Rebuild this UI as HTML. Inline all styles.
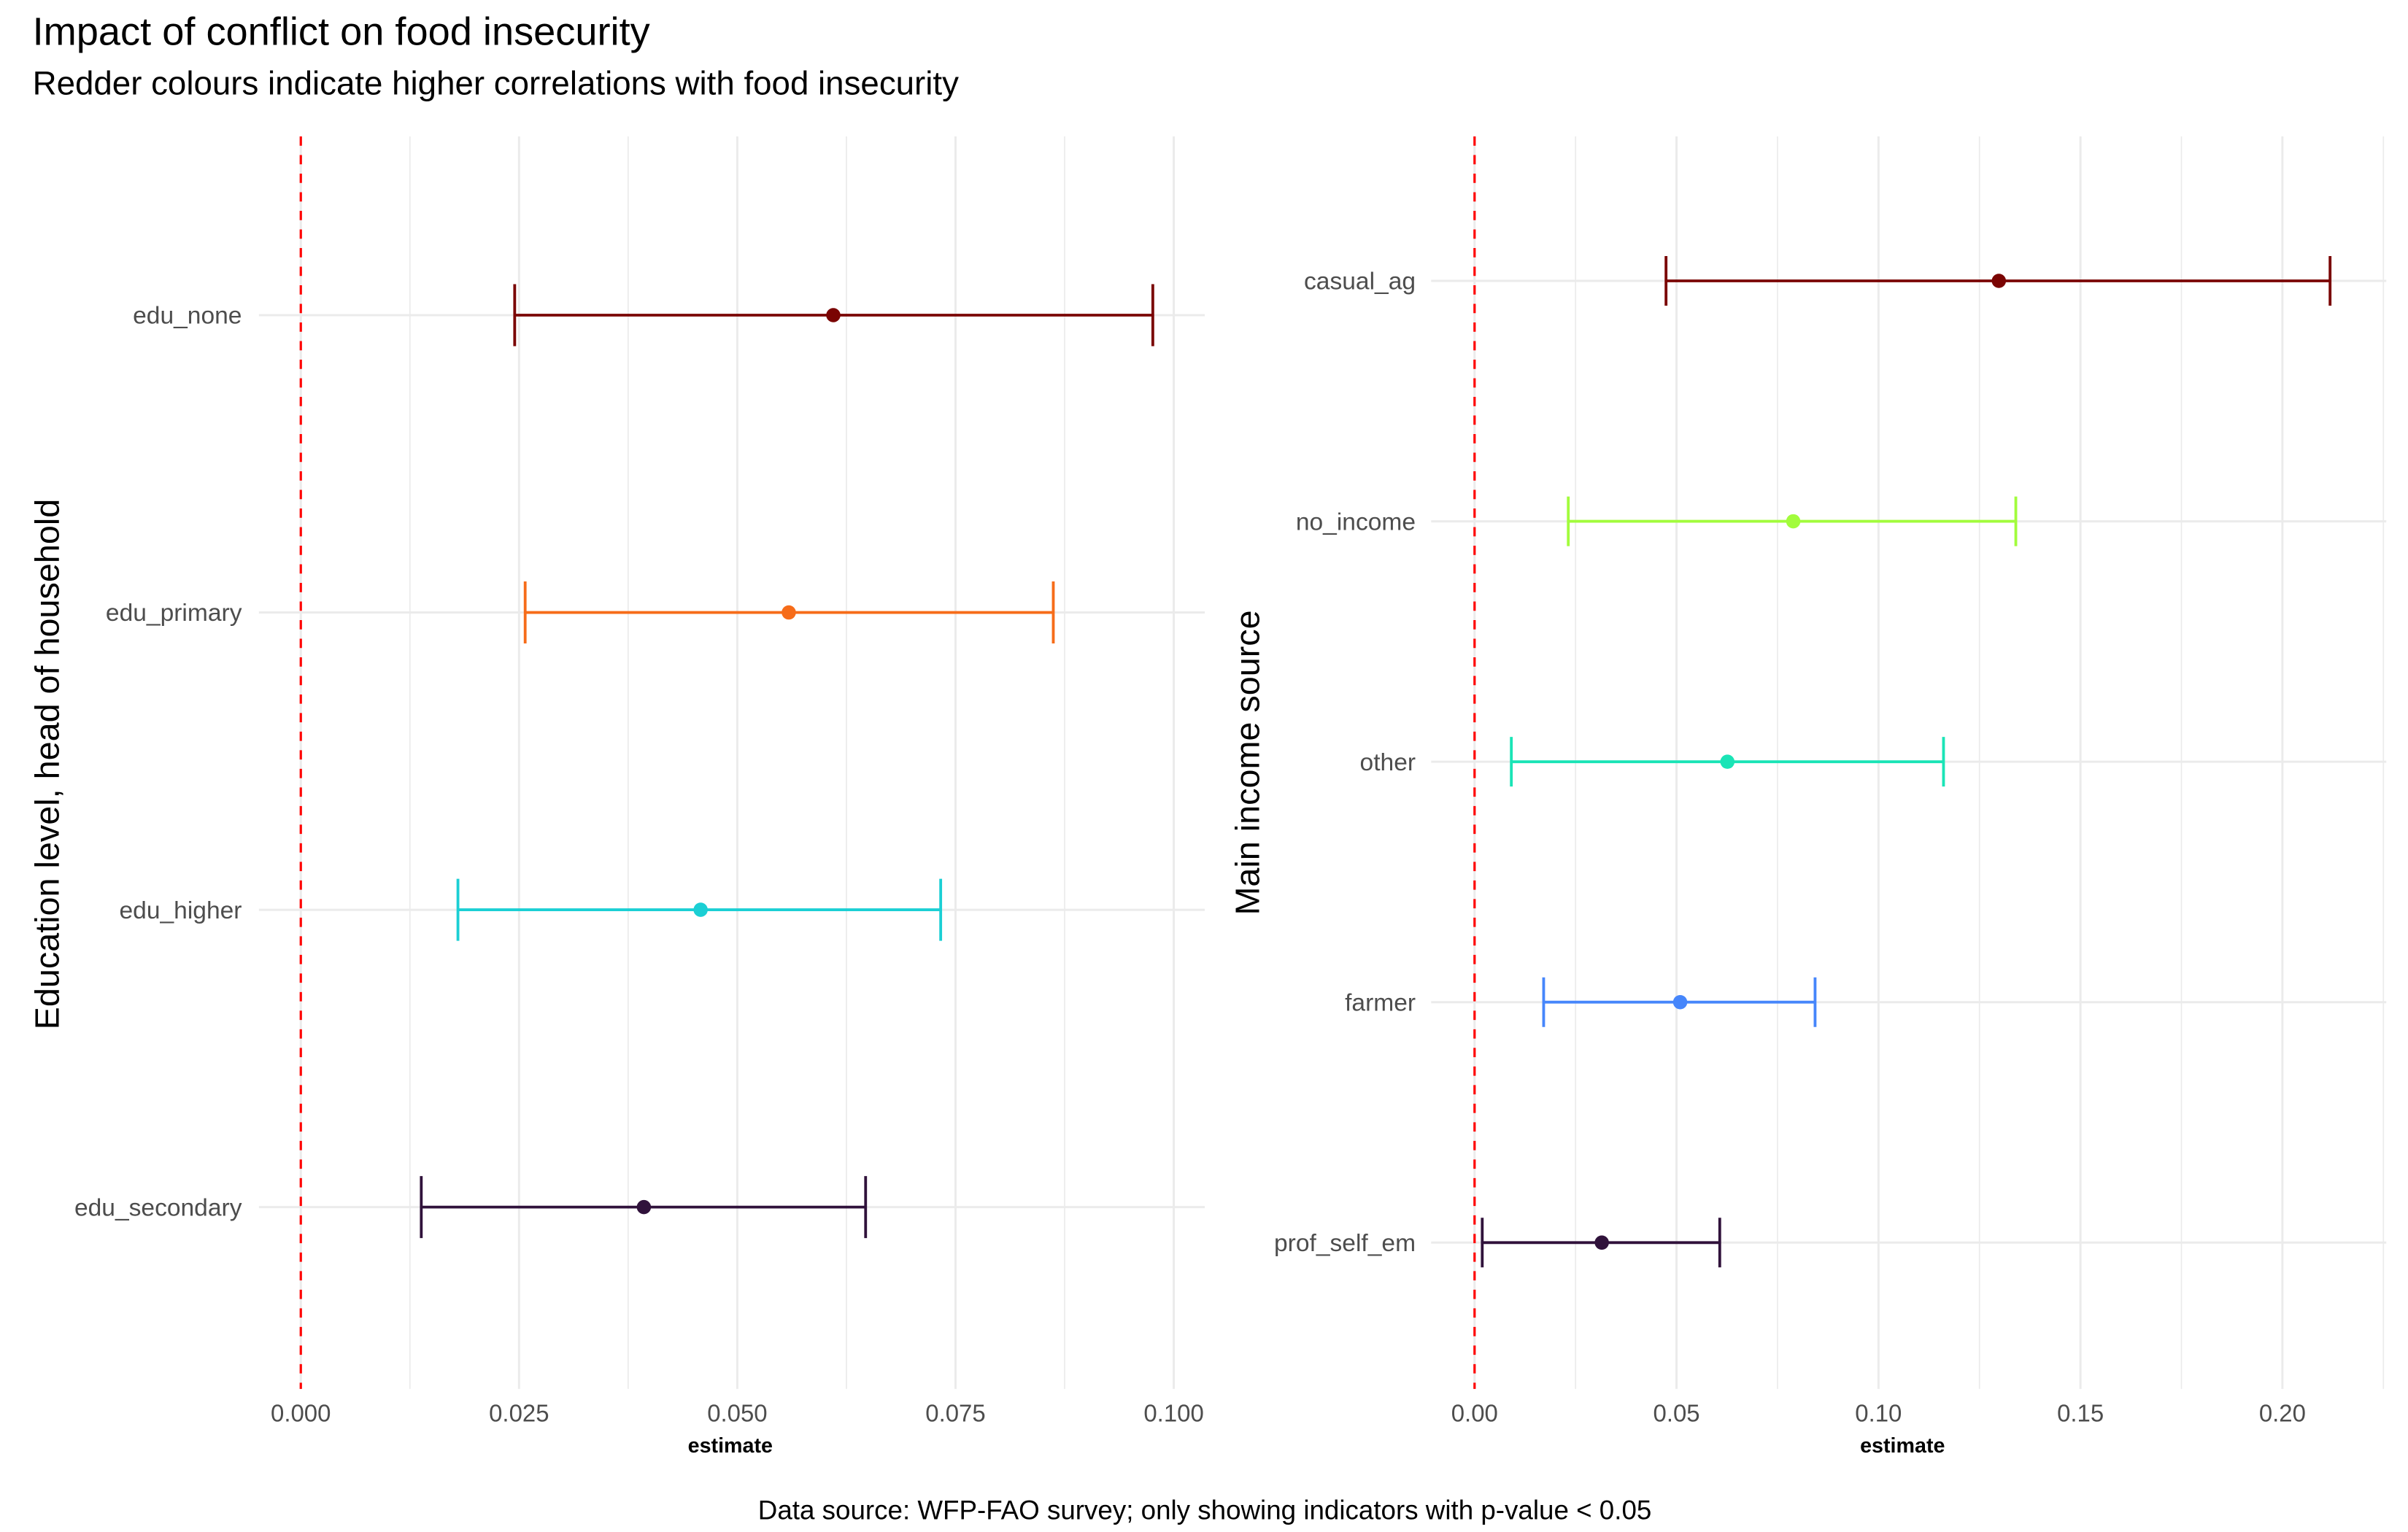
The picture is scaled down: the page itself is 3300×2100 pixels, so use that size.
<!DOCTYPE html>
<html><head><meta charset="utf-8"><style>
html,body{margin:0;padding:0;background:#fff}
svg{display:block;font-family:"Liberation Sans",sans-serif}
</style></head><body>
<svg id="chart" width="3300" height="2100" viewBox="0 0 1553 988.3" preserveAspectRatio="none" xmlns="http://www.w3.org/2000/svg">
<rect width="1553" height="988.3" fill="#fff"/>
<text x="21" y="29" font-size="25.5" fill="#000">Impact of conflict on food insecurity</text>
<text x="21" y="61" font-size="21.5" fill="#000">Redder colours indicate higher correlations with food insecurity</text>
<text transform="translate(38,493) rotate(-90)" text-anchor="middle" font-size="22" fill="#000">Education level, head of household</text>
<text transform="translate(812,492) rotate(-90)" text-anchor="middle" font-size="22" fill="#000">Main income source</text>
<text x="777" y="980" text-anchor="middle" font-size="17.3" fill="#000">Data source: WFP-FAO survey; only showing indicators with p-value &lt; 0.05</text>
<g id="left"></g>
<g id="right"></g>
</svg>
<script>
const eduCats = ["edu_none","edu_primary","edu_higher","edu_secondary"];
const eduLo = [0.0245,0.0257,0.0180,0.0138];
const eduEst = [0.0610,0.0559,0.0458,0.0393];
const eduHi = [0.0976,0.0862,0.0733,0.0647];
const eduColors = ["#7a0403","#f66c19","#1bcfd4","#30123b"];
const eduTicks = [0,0.025,0.05,0.075,0.1];
const eduTickLabels = ["0.000","0.025","0.050","0.075","0.100"];

const incCats = ["casual_ag","no_income","other","farmer","prof_self_em"];
const incLo = [0.0474,0.0232,0.0091,0.0171,0.0019];
const incEst = [0.1298,0.0789,0.0626,0.0509,0.0315];
const incHi = [0.2118,0.1340,0.1161,0.0843,0.0607];
const incColors = ["#7a0403","#a2fc3c","#1ae4b6","#4686fb","#30123b"];
const incTicks = [0,0.05,0.1,0.15,0.2];
const incTickLabels = ["0.00","0.05","0.10","0.15","0.20"];

const NS="http://www.w3.org/2000/svg";
function mk(parent,tag,attrs){const e=document.createElementNS(NS,tag);for(const k in attrs)e.setAttribute(k,attrs[k]);parent.appendChild(e);return e;}

function panel(g,o){
  const xs=v=>o.x0+(v)*o.k;
  const ys=i=>o.yTop+i*o.step;
  const Y1=88,Y2=896;
  for(let i=0;i<o.ticks.length-1;i++){
    const mv=(o.ticks[i]+o.ticks[i+1])/2;
    const l=mk(g,"line",{x1:xs(mv),x2:xs(mv),y1:Y1,y2:Y2,stroke:"#ebebeb","stroke-width":0.8});
    
    
  }
  if(o.extraMinor){const mv=o.ticks[o.ticks.length-1]+(o.ticks[1]-o.ticks[0])/2;if(xs(mv)<o.right){const l=mk(g,"line",{x1:xs(mv),x2:xs(mv),y1:Y1,y2:Y2,stroke:"#ebebeb","stroke-width":0.8});}}
  o.ticks.forEach((t,i)=>{
    const l=mk(g,"line",{x1:xs(t),x2:xs(t),y1:Y1,y2:Y2,stroke:"#ebebeb","stroke-width":1.4});
    
    
    const tx=mk(g,"text",{x:xs(t),y:917,"text-anchor":"middle","font-size":15.5,fill:"#4d4d4d"});
    tx.textContent=o.tickLabels[i];
    
    
  });
  o.cats.forEach((c,i)=>{
    const y=ys(i);
    const l=mk(g,"line",{x1:o.left,x2:o.right,y1:y,y2:y,stroke:"#ebebeb","stroke-width":1.4});
    
    
    const t=mk(g,"text",{x:o.labelX,y:y+5.5,"text-anchor":"end","font-size":15.8,fill:"#4d4d4d"});
    t.textContent=c;
    
    
  });
  const dz=mk(g,"line",{x1:xs(0),x2:xs(0),y1:Y1,y2:Y2,stroke:"#ff0000","stroke-width":1.5,"stroke-dasharray":"6,6"});
  
  
  o.cats.forEach((c,i)=>{
    const y=ys(i),col=o.colors[i];
    const bar=mk(g,"path",{d:`M${xs(o.lo[i])},${y-o.cap}V${y+o.cap}M${xs(o.lo[i])},${y}H${xs(o.hi[i])}M${xs(o.hi[i])},${y-o.cap}V${y+o.cap}`,stroke:col,"stroke-width":1.8,fill:"none"});
    
    
    const p=mk(g,"circle",{cx:xs(o.est[i]),cy:y,r:4.6,fill:col});
    
    
  });
  const xt=mk(g,"text",{x:o.xtX,y:937,"text-anchor":"middle","font-size":13.5,"font-weight":"bold",fill:"#000"});
  xt.textContent="estimate";
  
  
}
panel(document.getElementById("left"),{cats:eduCats,lo:eduLo,est:eduEst,hi:eduHi,colors:eduColors,ticks:eduTicks,tickLabels:eduTickLabels,x0:194,k:5630,left:167,right:777,yTop:203.3,step:191.8,cap:20,labelX:156,xtX:471});
panel(document.getElementById("right"),{cats:incCats,lo:incLo,est:incEst,hi:incHi,colors:incColors,ticks:incTicks,tickLabels:incTickLabels,x0:951,k:2605,left:923,right:1539,yTop:181.2,step:155.1,cap:16,labelX:913,extraMinor:true,xtX:1227});
</script>
</body></html>
